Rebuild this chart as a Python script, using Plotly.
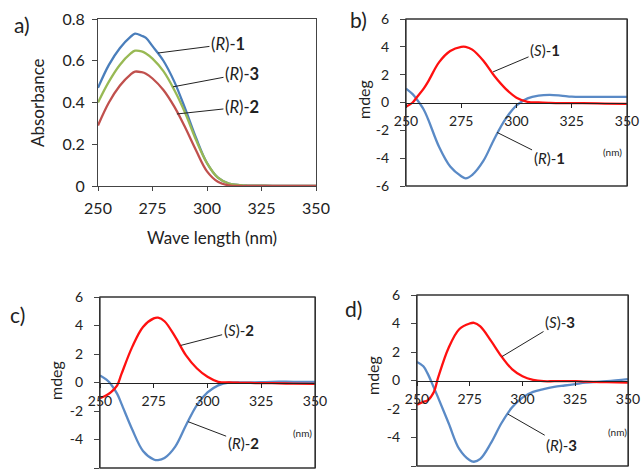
import plotly.graph_objects as go

# ---------------- data ----------------
wl_uv = [250, 255, 260, 265, 267, 270, 272, 275, 280, 285, 290, 295, 300, 305, 310, 315, 320, 330, 340, 350]
uv_R1 = [0.47, 0.58, 0.66, 0.715, 0.73, 0.72, 0.71, 0.67, 0.60, 0.50, 0.37, 0.23, 0.11, 0.04, 0.012, 0.004, 0.002, 0.001, 0.0, 0.0]
uv_R3 = [0.40, 0.50, 0.58, 0.635, 0.648, 0.645, 0.635, 0.61, 0.55, 0.46, 0.35, 0.22, 0.11, 0.04, 0.012, 0.004, 0.002, 0.001, 0.0, 0.0]
uv_R2 = [0.29, 0.40, 0.48, 0.535, 0.548, 0.545, 0.538, 0.515, 0.46, 0.38, 0.28, 0.17, 0.07, 0.02, 0.003, 0.0, 0.0, 0.0, 0.0, 0.0]

wl_cd = [250, 253, 255, 258, 260, 265, 270, 275, 277, 280, 285, 290, 295, 300, 305, 310, 315, 320, 325, 330, 340, 350]
cd_S1 = [-0.3, 0.0, 0.4, 1.0, 1.5, 2.9, 3.7, 4.0, 4.0, 3.8, 3.0, 1.9, 1.0, 0.35, 0.05, 0.0, -0.03, -0.05, -0.05, -0.05, -0.08, -0.1]
cd_R1 = [1.0, 0.6, 0.2, -0.5, -1.2, -3.2, -4.6, -5.3, -5.45, -5.2, -4.2, -2.6, -1.2, -0.2, 0.3, 0.5, 0.55, 0.5, 0.42, 0.4, 0.4, 0.4]
cd_S2 = [-1.1, -0.9, -0.7, -0.2, 0.6, 2.5, 3.9, 4.5, 4.55, 4.3, 3.2, 1.9, 1.0, 0.4, 0.05, 0.0, -0.02, -0.03, -0.05, -0.05, -0.08, -0.1]
cd_R2 = [0.5, 0.2, -0.1, -0.8, -1.5, -3.3, -4.8, -5.4, -5.45, -5.3, -4.5, -3.0, -1.6, -0.7, -0.2, 0.0, 0.0, 0.0, 0.02, 0.05, 0.05, 0.05]
cd_S3 = [-1.7, -1.5, -1.4, -0.8, 0.2, 2.3, 3.6, 4.0, 4.05, 3.8, 2.8, 1.7, 0.8, 0.3, 0.05, -0.05, -0.05, -0.05, -0.05, -0.08, -0.12, -0.15]
cd_R3 = [1.3, 1.0, 0.5, -0.5, -1.2, -3.0, -4.8, -5.6, -5.7, -5.5, -4.4, -3.0, -1.9, -1.2, -0.8, -0.6, -0.45, -0.35, -0.25, -0.15, -0.05, 0.1]

x_ticks = [250, 275, 300, 325, 350]
uv_ticks = [0, 0.2, 0.4, 0.6, 0.8]
uv_ticktext = ["0", "0.2", "0.4", "0.6", "0.8"]
cd_ticks = [-6, -4, -2, 0, 2, 4, 6]
cd_ticktext = ["-6", "-4", "-2", "0", "2", "4", "6"]

# ---------------- styles ----------------
FONT = "Lato, 'Open Sans', sans-serif"
C_BLUE_UV = "#4A7EBB"
C_GREEN = "#98B954"
C_RED_UV = "#C0504D"
C_RED = "#FF1010"
C_BLUE = "#5A8AC6"
LW = 2.3

W, H = 643, 472
fig = go.Figure()

# panel domains (paper fractions)
dom = {
    "a": ([98 / W, 316 / W], [1 - 186 / H, 1 - 19 / H]),
    "b": ([406 / W, 627 / W], [1 - 186 / H, 1 - 19 / H]),
    "c": ([100 / W, 315 / W], [1 - 468 / H, 1 - 297 / H]),
    "d": ([417 / W, 628 / W], [1 - 466 / H, 1 - 295 / H]),
}

# traces
fig.add_trace(go.Scatter(x=wl_uv, y=uv_R1, mode="lines", line=dict(color=C_BLUE_UV, width=LW, shape="spline"), xaxis="x", yaxis="y"))
fig.add_trace(go.Scatter(x=wl_uv, y=uv_R3, mode="lines", line=dict(color=C_GREEN, width=LW, shape="spline"), xaxis="x", yaxis="y"))
fig.add_trace(go.Scatter(x=wl_uv, y=uv_R2, mode="lines", line=dict(color=C_RED_UV, width=LW, shape="spline"), xaxis="x", yaxis="y"))

cd_sets = [("b", "2", cd_S1, cd_R1), ("c", "3", cd_S2, cd_R2), ("d", "4", cd_S3, cd_R3)]
for p, n, s, r in cd_sets:
    fig.add_trace(go.Scatter(x=wl_cd, y=r, mode="lines", line=dict(color=C_BLUE, width=LW, shape="spline"), xaxis="x" + n, yaxis="y" + n))
    fig.add_trace(go.Scatter(x=wl_cd, y=s, mode="lines", line=dict(color=C_RED, width=LW, shape="spline"), xaxis="x" + n, yaxis="y" + n))

tickfont_a = dict(family=FONT, size=16, color="#222")
tickfont_cd = dict(family=FONT, size=14, color="#222")

layout = dict(
    width=W, height=H, margin=dict(l=0, r=0, t=0, b=0, autoexpand=False),
    paper_bgcolor="white", plot_bgcolor="white", showlegend=False,
    font=dict(family=FONT, color="#222"),
)

# panel a axes
layout["xaxis"] = dict(domain=dom["a"][0], range=[250, 350], tickvals=x_ticks, ticks="outside", ticklen=4,
                       tickcolor="#444", showline=True, linecolor="#444", linewidth=1, mirror=True,
                       showgrid=False, zeroline=False, tickfont=tickfont_a, anchor="y", automargin=False,
                       ticklabelstandoff=4)
layout["yaxis"] = dict(domain=dom["a"][1], range=[0, 0.8], tickvals=uv_ticks, ticktext=uv_ticktext, ticks="outside",
                       ticklen=5, tickcolor="#444", showline=True, linecolor="#444", linewidth=1, mirror=True,
                       showgrid=False, zeroline=False, tickfont=tickfont_a, anchor="x", automargin=False,
                       ticklabelstandoff=4)

shapes = []
for p, n, s, r in cd_sets:
    xd, yd = dom[p]
    ymin, ymax = -6, 6
    zero_pos = yd[0] + (0 - ymin) / (ymax - ymin) * (yd[1] - yd[0])
    layout["xaxis" + n] = dict(domain=xd, range=[250, 350], tickvals=x_ticks, ticks="outside", ticklen=4,
                               tickcolor="#222", showline=True, linecolor="#222", linewidth=1.3,
                               showgrid=False, zeroline=False, tickfont=tickfont_cd,
                               anchor="free", position=zero_pos, automargin=False, ticklabelstandoff=2)
    layout["yaxis" + n] = dict(domain=yd, range=[ymin, ymax], tickvals=cd_ticks, ticktext=cd_ticktext,
                               ticks="outside", ticklen=5, tickcolor="#444",
                               showline=True, linecolor="#333", linewidth=1.2, mirror=True,
                               showgrid=False, zeroline=False,
                               tickfont=tickfont_cd, anchor="x" + n, ticklabelstandoff=8, automargin=False)
    shapes.append(dict(type="rect", xref="x" + n + " domain", yref="y" + n + " domain", x0=0, x1=1, y0=0, y1=1,
                       line=dict(color="#333", width=1.3), fillcolor="rgba(0,0,0,0)", layer="above"))

layout["shapes"] = shapes
fig.update_layout(**layout)

ann = []


def leader(text, x, y, ax, ay, xr, yr, size):
    ann.append(dict(text=text, x=x, y=y, xref=xr, yref=yr, ax=ax, ay=ay, axref="pixel", ayref="pixel",
                    showarrow=True, arrowhead=0, arrowwidth=1, arrowcolor="#222",
                    font=dict(family=FONT, size=size, color="#222"), standoff=0))


leader("(<i>R</i>)-<b>1</b>", 277.5, 0.637, 70, -9, "x", "y", 16.5)
leader("(<i>R</i>)-<b>3</b>", 284.4, 0.475, 69, -13, "x", "y", 16.5)
leader("(<i>R</i>)-<b>2</b>", 286.2, 0.345, 65, -7, "x", "y", 16.5)

leader("(<i>S</i>)-<b>1</b>", 289.4, 2.2, 52, -22, "x2", "y2", 15)
leader("(<i>R</i>)-<b>1</b>", 291.2, -2.15, 52, 26, "x2", "y2", 15)
leader("(<i>S</i>)-<b>2</b>", 287.5, 2.6, 58, -15, "x3", "y3", 15)
leader("(<i>R</i>)-<b>2</b>", 291.0, -2.75, 55, 21, "x3", "y3", 15)
leader("(<i>S</i>)-<b>3</b>", 290.3, 1.68, 58, -35, "x4", "y4", 15)
leader("(<i>R</i>)-<b>3</b>", 293.0, -2.35, 54, 31, "x4", "y4", 15)


def ptext(text, px, py, size, angle=0):
    ann.append(dict(text=text, x=px / W, y=1 - py / H, xref="paper", yref="paper", showarrow=False,
                    font=dict(family=FONT, size=size, color="#222"), textangle=angle,
                    xanchor="center", yanchor="middle"))


ptext("a)", 22, 25, 21)
ptext("b)", 358, 19, 21)
ptext("c)", 17, 314, 21)
ptext("d)", 353, 308, 21)
ptext("Absorbance", 38, 103, 17, -90)
ptext("Wave length (nm)", 212, 237, 17)
ptext("mdeg", 363, 100, 16, -90)
ptext("mdeg", 55, 380, 16, -90)
ptext("mdeg", 372, 376, 16, -90)
ptext("(nm)", 612, 152, 10)
ptext("(nm)", 302, 433, 10)
ptext("(nm)", 617, 432, 10)

fig.update_layout(annotations=ann)
fig.write_html("out.html", config={"displayModeBar": False},
               post_script="document.body.style.margin='0';")
